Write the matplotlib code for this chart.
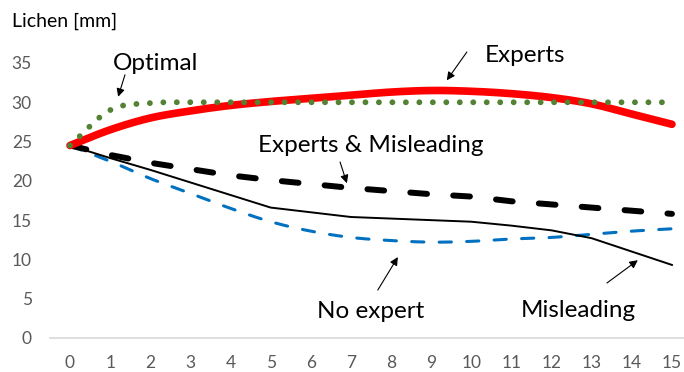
import numpy as np
import matplotlib
matplotlib.use("Agg")
import matplotlib.pyplot as plt

plt.rcParams["font.family"] = ["Lato", "DejaVu Sans"]

steps = np.arange(16)
optimal = [24.5, 29.0, 29.9, 30, 30, 30, 30, 30, 30, 30, 30, 30, 30, 30, 30, 30]
experts = [24.5, 26.5, 28.0, 28.9, 29.6, 30.1, 30.5, 30.9, 31.3, 31.5, 31.4, 31.1, 30.6, 29.8, 28.5, 27.2]
experts_misleading = [24.5, 23.3, 22.3, 21.5, 20.7, 20.1, 19.6, 19.1, 18.7, 18.3, 18.0, 17.4, 17.0, 16.6, 16.2, 15.8]
no_expert = [24.5, 22.5, 20.3, 18.4, 16.5, 14.8, 13.6, 12.8, 12.4, 12.2, 12.3, 12.6, 12.8, 13.2, 13.6, 13.9]
misleading = [24.5, 22.9, 21.4, 19.8, 18.2, 16.6, 16.0, 15.4, 15.2, 15.0, 14.8, 14.3, 13.7, 12.7, 11.0, 9.3]


def smooth(x, y, n=24):
    # Catmull-Rom style smoothing, like a spreadsheet "smoothed line"
    x = np.asarray(x, float)
    y = np.asarray(y, float)
    m = np.empty_like(y)
    m[1:-1] = (y[2:] - y[:-2]) / 2
    m[0] = y[1] - y[0]
    m[-1] = y[-1] - y[-2]
    xs, ys = [], []
    t = np.linspace(0, 1, n, endpoint=False)
    for i in range(len(x) - 1):
        h00 = 2 * t**3 - 3 * t**2 + 1
        h10 = t**3 - 2 * t**2 + t
        h01 = -2 * t**3 + 3 * t**2
        h11 = t**3 - t**2
        xs.append(x[i] + t * (x[i + 1] - x[i]))
        ys.append(h00 * y[i] + h10 * m[i] + h01 * y[i + 1] + h11 * m[i + 1])
    xs.append([x[-1]])
    ys.append([y[-1]])
    return np.concatenate(xs), np.concatenate(ys)


fig = plt.figure(figsize=(6.84, 3.72), dpi=100)
ax = fig.add_axes([0.073, 0.0914, 0.9387, 0.7815])

ax.plot(*smooth(steps, no_expert), color="#0070C0", lw=2.2,
        dashes=(4, 5), dash_capstyle="round")
ax.plot(steps, misleading, color="black", lw=1.4)
ax.plot(steps, experts_misleading, color="black", lw=4.3,
        dashes=(2.8, 4.4), dash_capstyle="round")
ax.plot(*smooth(steps, experts), color="#FF0000", lw=5.5, solid_capstyle="round")
ax.plot(*smooth(steps, optimal), color="#548235", lw=4.2,
        dashes=(0.01, 2.3), dash_capstyle="round")

ax.set_xlim(-0.5, 15.5)
ax.set_ylim(0, 37)
ax.set_xticks(steps)
ax.set_yticks(range(0, 40, 5))
ax.tick_params(length=0, labelsize=12.5, labelcolor="#595959")
ax.tick_params(axis="x", pad=12)
ax.tick_params(axis="y", pad=13)
for s in ["top", "right", "left"]:
    ax.spines[s].set_visible(False)
ax.spines["bottom"].set_color("#D9D9D9")
ax.spines["bottom"].set_linewidth(1.2)

fig.text(12 / 684, 1 - 27 / 372, "Lichen [mm]", fontsize=14, va="baseline")

arrow = dict(arrowstyle="-|>", color="black", lw=0.8, mutation_scale=12,
             shrinkA=0, shrinkB=0)
labels = [
    ("Optimal", (2.12, 34.1), (1.37, 33.5), (1.20, 30.7)),
    ("Experts", (11.34, 35.1), (9.89, 36.4), (9.39, 32.8)),
    ("Experts & Misleading", (7.50, 23.7), (6.73, 22.4), (6.90, 19.7)),
    ("No expert", (7.48, 2.55), (7.67, 6.1), (8.17, 10.3)),
    ("Misleading", (12.66, 2.67), (13.38, 7.0), (14.15, 9.9)),
]
for text, pos, tail, head in labels:
    ax.text(*pos, text, fontsize=17.5, ha="center", va="baseline")
    ax.annotate("", xy=head, xytext=tail, arrowprops=arrow)

fig.savefig("out.png", dpi=100)
